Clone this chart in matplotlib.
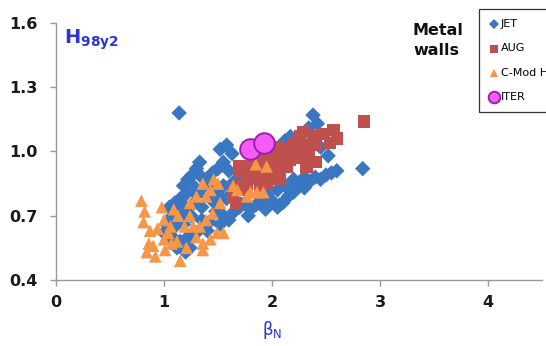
import matplotlib
matplotlib.use('Agg')
import matplotlib.pyplot as plt

# JET points (beta_N, H98y2)
jet_x = [1.14, 1.58, 1.52, 1.63, 1.33, 1.30, 1.26, 1.22, 1.18, 1.25,
         1.35, 1.40, 1.45, 1.50, 1.55, 1.60, 1.42, 1.38, 1.30, 1.20,
         1.15, 1.10, 1.05, 1.12, 1.20, 1.28, 1.35, 1.45, 1.50, 1.55,
         1.65, 1.70, 1.48, 1.55, 1.60, 1.52, 1.42, 1.35, 1.25, 1.18,
         1.10, 1.02, 1.00, 1.08, 1.15, 1.22, 1.30, 1.12, 1.20, 1.40,
         1.70, 1.75, 1.80, 1.85, 1.90, 1.95, 2.00, 2.05, 2.10, 2.15,
         2.20, 2.25, 2.30, 2.35, 2.40, 2.45, 2.50, 2.55, 2.60, 2.20,
         2.12, 2.05, 2.30, 2.12, 2.23, 2.17, 2.38, 2.42, 2.34, 2.45,
         2.52, 2.84, 1.85, 2.00, 1.65, 1.78, 1.94, 2.07, 1.24, 1.06,
         1.46, 1.36, 1.58, 1.28, 1.62, 1.16, 1.08]
jet_y = [1.18, 1.03, 1.01, 0.99, 0.95, 0.92, 0.89, 0.87, 0.84, 0.85,
         0.88, 0.86, 0.90, 0.92, 0.95, 0.91, 0.82, 0.80, 0.80, 0.80,
         0.78, 0.76, 0.74, 0.72, 0.74, 0.76, 0.74, 0.77, 0.80, 0.84,
         0.86, 0.88, 0.72, 0.70, 0.68, 0.66, 0.67, 0.68, 0.70, 0.66,
         0.65, 0.66, 0.62, 0.60, 0.58, 0.60, 0.62, 0.55, 0.53, 0.63,
         0.74, 0.76, 0.73, 0.75, 0.78, 0.80, 0.77, 0.74, 0.76, 0.79,
         0.81, 0.84, 0.83, 0.86, 0.88, 0.87, 0.89, 0.90, 0.91, 0.87,
         0.84, 0.82, 0.88, 1.05, 1.06, 1.07, 1.17, 1.13, 1.11, 1.02,
         0.98, 0.92, 0.90, 0.95, 0.72, 0.70, 0.73, 0.75, 0.55, 0.59,
         0.84, 0.83, 0.78, 0.83, 0.80, 0.70, 0.70]

# ASDEX Upgrade points
aug_x = [2.57, 2.60, 2.85, 2.41, 2.34, 2.26, 2.32, 2.20, 2.14, 2.07,
         2.01, 1.95, 1.90, 1.83, 1.77, 1.70, 1.70, 1.80, 1.90, 1.98,
         2.07, 2.17, 2.26, 2.32, 2.23, 2.14, 2.04, 1.95, 1.86, 1.77,
         1.70, 1.64, 1.67, 1.74, 1.95, 1.89, 2.07, 2.29, 2.38, 2.20,
         2.10, 2.01, 2.32, 2.41, 2.54, 2.41, 1.64, 2.48]
aug_y = [1.10, 1.06, 1.14, 0.95, 0.98, 1.07, 1.03, 1.03, 1.01, 1.02,
         0.99, 0.97, 0.96, 0.94, 0.93, 0.93, 0.91, 0.90, 0.91, 0.93,
         0.94, 0.96, 0.97, 1.00, 1.01, 0.93, 0.90, 0.88, 0.87, 0.85,
         0.84, 0.81, 0.76, 0.82, 0.85, 0.84, 0.87, 1.09, 1.07, 1.04,
         0.99, 0.95, 0.93, 0.95, 1.04, 1.03, 0.79, 1.08]

# Alcator C-Mod H-mode points
cmod_x = [0.79, 0.82, 0.81, 0.87, 0.86, 0.84, 0.92, 1.01, 1.07, 1.00,
          0.98, 1.00, 1.06, 1.13, 1.15, 1.19, 1.24, 1.30, 1.36, 1.43,
          1.49, 1.33, 1.39, 1.45, 1.52, 1.43, 1.36, 1.46, 1.30, 1.24,
          1.12, 1.21, 1.36, 1.55, 1.64, 1.80, 1.86, 1.92, 1.85, 1.95,
          1.77, 0.94, 0.90, 1.04, 1.27, 1.09, 1.39, 1.50, 1.68]
cmod_y = [0.77, 0.72, 0.67, 0.63, 0.57, 0.53, 0.51, 0.54, 0.57, 0.59,
          0.74, 0.68, 0.65, 0.70, 0.49, 0.65, 0.70, 0.60, 0.57, 0.59,
          0.62, 0.65, 0.68, 0.71, 0.76, 0.82, 0.85, 0.87, 0.79, 0.76,
          0.58, 0.55, 0.54, 0.62, 0.84, 0.81, 0.81, 0.81, 0.94, 0.93,
          0.79, 0.64, 0.56, 0.62, 0.65, 0.73, 0.79, 0.85, 0.82]

# ITER operating points
iter_x = [1.80, 1.93]
iter_y = [1.01, 1.04]

xticks = [0, 1, 2, 3, 4]
yticks = [0.4, 0.7, 1.0, 1.3, 1.6]
ytick_labels = ['0.4', '0.7', '1.0', '1.3', '1.6']

plt.rcParams['mathtext.fontset'] = 'dejavusans'

fig = plt.figure(figsize=(5.46, 3.46), dpi=100)
ax = fig.add_axes([0.1026, 0.1908, 0.890, 0.7428])

ax.scatter(jet_x, jet_y, marker='D', s=62, color='#3A77C2', edgecolors='none',
           label='JET', zorder=2)
ax.scatter(aug_x, aug_y, marker='s', s=78, color='#C0504D', edgecolors='none',
           label='AUG', zorder=3)
ax.scatter(cmod_x, cmod_y, marker='^', s=82, color='#F79646', edgecolors='none',
           label='C-Mod H-mode', zorder=4)
ax.scatter(iter_x, iter_y, marker='o', s=220, color='#F45CF4', edgecolors='#9B1FB0',
           linewidths=1.4, label='ITER', zorder=5)

ax.set_xlim(0, 4.5)
ax.set_ylim(0.4, 1.6)
ax.set_xticks(xticks)
ax.set_yticks(yticks)
ax.set_yticklabels(ytick_labels)

for side in ['top', 'right']:
    ax.spines[side].set_visible(False)
for side in ['left', 'bottom']:
    ax.spines[side].set_color('#9A9A9A')
    ax.spines[side].set_linewidth(1.0)

ax.tick_params(axis='both', colors='#9A9A9A', length=4, width=1.0,
               labelcolor='#1A1A1A', labelsize=11.5)
ax.tick_params(axis='y', pad=9)
ax.tick_params(axis='x', pad=7)
for lbl in ax.get_xticklabels() + ax.get_yticklabels():
    lbl.set_fontweight('bold')

ax.set_xlabel(r'$\mathrm{β}_{\mathrm{N}}$', color='#2B35D5', fontsize=12)
ax.xaxis.set_label_coords(2.0 / 4.5, -0.15)

ax.text(0.075, 1.52, r'$\mathbf{H}_{\mathbf{98y2}}$', color='#2B35D5',
        fontsize=14, va='center', ha='left')

fig.text(413 / 546, 1 - 23 / 346, 'Metal\nwalls', fontsize=11.5, fontweight='bold',
         va='top', ha='left', color='#111111', linespacing=1.45)

leg = ax.legend(loc='upper left', bbox_to_anchor=(479 / 546, 1 - 9 / 346),
                bbox_transform=fig.transFigure, fontsize=8, frameon=True,
                fancybox=False, edgecolor='#333333', framealpha=1,
                labelspacing=1.3, handletextpad=0.15, borderpad=0.9,
                handlelength=0.9, markerscale=0.65, borderaxespad=0)
leg.get_frame().set_linewidth(0.9)
leg.legend_handles[3].set_sizes([70])

fig.savefig('out.png', dpi=100)
